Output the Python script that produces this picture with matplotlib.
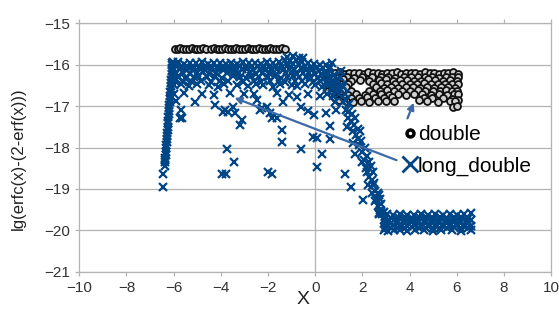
import matplotlib
matplotlib.use("Agg")
import matplotlib.pyplot as plt
from matplotlib.lines import Line2D

plt.rcParams['font.family'] = ['Liberation Sans', 'DejaVu Sans']

# ---- double (circles) ----
double_top_x = [
    -5.95, -5.83, -5.71, -5.59, -5.47, -5.35, -5.23, -5.11, -4.99, -4.87, -4.75, -4.63,
    -4.42, -4.3, -4.18, -4.06, -3.94, -3.82, -3.7, -3.58, -3.46, -3.34, -3.22, -3.1,
    -2.98, -2.86, -2.74, -2.62, -2.5, -2.38, -2.26, -2.14, -2.02, -1.9, -1.78, -1.66,
    -1.54, -1.42, -1.3,
]
double_top_y = [
    -15.62, -15.63, -15.61, -15.62, -15.63, -15.62, -15.61, -15.62, -15.63, -15.62, -15.61, -15.62,
    -15.62, -15.61, -15.62, -15.63, -15.62, -15.61, -15.62, -15.63, -15.62, -15.61, -15.62, -15.63,
    -15.62, -15.61, -15.62, -15.63, -15.62, -15.61, -15.62, -15.63, -15.62, -15.61, -15.62, -15.63,
    -15.62, -15.61, -15.62,
]
double_cl_x = [
    0.45, 0.65, 0.85, 1.05, 1.25, 1.45, 1.65, 1.85, 2.05, 2.25, 2.45, 2.65,
    2.85, 3.05, 3.25, 3.45, 3.65, 3.85, 4.05, 4.25, 4.45, 4.65, 4.85, 5.05,
    5.25, 5.45, 5.65, 5.85, 6.05,
    0.5, 0.75, 1.0, 1.35, 1.65, 2.0, 2.4, 2.8, 3.1, 3.4, 3.75, 4.05, 4.35, 4.65,
    4.95, 5.25, 5.55, 5.8, 6.05,
    0.55, 0.9, 1.2, 1.5, 1.9, 2.3, 2.7, 3.0, 3.3, 3.6, 3.9, 4.2, 4.5, 4.8,
    5.1, 5.4, 5.7, 6.0,
    0.7, 1.05, 1.4, 2.45, 2.8, 3.05, 3.4, 3.7, 4.0, 4.3, 4.6, 4.9, 5.2, 5.5,
    5.8, 6.05,
    0.6, 0.95, 1.3, 2.6, 2.9, 3.2, 3.5, 3.85, 4.15, 4.45, 4.75, 5.05, 5.35,
    5.65, 5.95,
    0.55, 0.85, 1.15, 1.5, 2.3, 2.75, 3.05, 3.35, 3.7, 4.0, 4.35, 4.65, 5.0,
    5.3, 5.55, 5.8, 6.0,
    0.7, 1.05, 1.4, 1.75, 2.1, 2.45, 2.8, 3.15, 3.5, 3.85, 4.2, 4.55, 4.9,
    5.25, 5.6, 5.9, 6.05,
    0.85, 1.2, 1.5, 1.85, 2.2, 2.55, 2.9, 3.25, 4.6, 4.95, 5.4, 5.8, 6.05,
    1.0, 1.3, 1.6, 1.95, 2.3, 2.65, 3.0, 3.35, 4.4, 4.75, 5.2, 5.7, 5.95,
    5.85, 6.0,
]
double_cl_y = [
    -16.22, -16.2, -16.21, -16.19, -16.22, -16.2, -16.21, -16.2, -16.22, -16.19, -16.21, -16.2,
    -16.22, -16.2, -16.21, -16.19, -16.22, -16.2, -16.21, -16.2, -16.22, -16.19, -16.21, -16.2,
    -16.22, -16.2, -16.21, -16.19, -16.22,
    -16.3, -16.31, -16.29, -16.3, -16.32, -16.3, -16.29, -16.31, -16.3, -16.32, -16.29, -16.3,
    -16.31, -16.3, -16.29, -16.32, -16.3, -16.31, -16.3,
    -16.38, -16.4, -16.36, -16.39, -16.37, -16.4, -16.38, -16.36, -16.4, -16.38, -16.37, -16.39,
    -16.4, -16.36, -16.38, -16.4, -16.37, -16.39,
    -16.47, -16.46, -16.48, -16.47, -16.45, -16.48, -16.47, -16.46, -16.48, -16.47, -16.45,
    -16.48, -16.47, -16.46, -16.48, -16.47,
    -16.55, -16.57, -16.53, -16.55, -16.57, -16.54, -16.56, -16.53, -16.55, -16.57, -16.54,
    -16.56, -16.55, -16.53, -16.57,
    -16.63, -16.64, -16.62, -16.63, -16.65, -16.63, -16.62, -16.64, -16.63, -16.65, -16.62,
    -16.63, -16.64, -16.63, -16.62, -16.65, -16.63,
    -16.72, -16.7, -16.74, -16.71, -16.73, -16.7, -16.72, -16.74, -16.71, -16.73, -16.7,
    -16.72, -16.74, -16.71, -16.73, -16.7, -16.72,
    -16.8, -16.79, -16.81, -16.8, -16.78, -16.81, -16.8, -16.79, -16.8, -16.81, -16.8,
    -16.82, -16.85,
    -16.86, -16.88, -16.9, -16.88, -16.9, -16.87, -16.89, -16.88, -16.85, -16.88, -16.9,
    -16.89, -16.88,
    -17.02, -17.0,
]

# ---- long_double (crosses) ----
long_rise_x = [
    -6.45, -6.45, -6.38, -6.37, -6.36, -6.35, -6.34, -6.33, -6.32, -6.31, -6.3, -6.29,
    -6.28, -6.27, -6.26, -6.25, -6.24, -6.23, -6.22, -6.21, -6.2, -6.19, -6.18, -6.17,
    -6.16, -6.15, -6.14, -6.13, -6.12, -6.11, -6.1, -6.09, -6.08, -6.07, -6.06, -6.05,
    -6.04,
]
long_rise_y = [
    -18.95, -18.64, -18.45, -18.35, -18.3, -18.25, -18.17, -18.1, -18.02, -17.95, -17.87, -17.8,
    -17.72, -17.65, -17.57, -17.5, -17.42, -17.35, -17.27, -17.2, -17.12, -17.05, -16.97, -16.9,
    -16.82, -16.75, -16.67, -16.6, -16.52, -16.45, -16.37, -16.3, -16.22, -16.15, -16.08, -16.02,
    -15.95,
]
long_band_x = [
    # row A
    -6.05, -5.8, -5.55, -5.3, -5.05, -4.8, -4.55, -4.3, -4.05, -3.8, -3.55,
    -3.3, -3.05, -2.8, -2.55, -2.3, -2.05, -1.8, -1.55, -1.3, -1.05, -0.8,
    -0.55, -0.3, -0.05, 0.2, 0.45, 0.7,
    # row A2
    -5.92, -5.67, -5.42, -5.17, -4.92, -4.67, -4.42, -4.17, -3.92, -3.67, -3.42,
    -3.17, -2.92, -2.67, -2.42, -2.17, -1.92, -1.67, -1.42, -1.17, -0.92, -0.67,
    -0.42, -0.17, 0.08, 0.33, 0.58,
    # row B
    -6.0, -5.72, -5.45, -5.2, -4.9, -4.65, -4.4, -4.12, -3.9, -3.62, -3.4,
    -3.12, -2.9, -2.62, -2.35, -2.12, -1.88, -1.6, -1.35, -1.12, -0.88, -0.6,
    -0.38, -0.12, 0.15, 0.4,
    # row B2
    -5.9, -5.6, -5.3, -5.0, -4.75, -4.5, -4.2, -3.75, -3.45, -3.25, -2.75, -2.5,
    -2.25, -1.95, -1.65, -1.25, -1.0, -0.75, -0.5, -0.25, 0.0, 0.25, 0.5,
    # row C
    -6.02, -5.8, -5.5, -5.15, -4.95, -4.6, -4.25, -3.95, -3.5, -3.2, -2.95,
    -2.7, -2.4, -2.0, -1.7, -1.45, -1.2, -0.95, -0.7, -0.4, -0.2, 0.1, 0.35, 0.6,
    # row C2
    -5.95, -5.6, -5.25, -4.85, -4.4, -4.05, -3.7, -3.05, -2.6, -2.3, -1.9, -1.55,
    -1.3, -0.85, -0.55, -0.1, 0.2, 0.45, 0.75,
    # row D
    -6.0, -5.7, -5.35, -5.0, -4.5, -4.1, -3.85, -3.3, -2.85, -2.5, -2.2, -1.8,
    -1.5, -1.0, -0.75, -0.45, 0.0, 0.3, 0.55, 0.8,
    # row E
    -6.0, -5.9, -5.55, -4.8, -4.3, -3.6, -3.0, -2.6, -1.6, -1.1, -0.3, 0.2, 0.5, 0.9,
    # bump at top
    -1.2, -0.95, -0.7, -0.52,
]
long_band_y = [
    -15.97, -15.95, -15.98, -15.96, -15.97, -15.95, -15.98, -15.96, -15.97, -15.99, -15.96,
    -15.98, -15.95, -15.97, -15.96, -15.98, -15.95, -15.97, -15.94, -15.9, -15.92, -15.88,
    -15.93, -15.96, -15.98, -16.02, -16.0, -15.97,
    -16.04, -16.05, -16.03, -16.04, -16.06, -16.04, -16.03, -16.05, -16.04, -16.06, -16.03,
    -16.04, -16.05, -16.03, -16.04, -16.06, -16.04, -16.03, -16.05, -16.0, -15.98, -16.0,
    -16.04, -16.05, -16.06, -16.08, -16.1,
    -16.12, -16.1, -16.14, -16.12, -16.11, -16.14, -16.12, -16.1, -16.13, -16.12, -16.14,
    -16.11, -16.12, -16.14, -16.1, -16.13, -16.12, -16.11, -16.14, -16.1, -16.12, -16.08,
    -16.13, -16.12, -16.15, -16.18,
    -16.21, -16.2, -16.22, -16.21, -16.19, -16.22, -16.21, -16.2, -16.22, -16.21, -16.19,
    -16.22, -16.21, -16.2, -16.22, -16.21, -16.19, -16.22, -16.21, -16.2, -16.22, -16.24, -16.26,
    -16.3, -16.28, -16.32, -16.3, -16.27, -16.31, -16.29, -16.32, -16.28, -16.3, -16.32,
    -16.27, -16.3, -16.31, -16.28, -16.32, -16.3, -16.27, -16.31, -16.29, -16.3, -16.33,
    -16.35, -16.3,
    -16.4, -16.41, -16.39, -16.4, -16.42, -16.4, -16.39, -16.41, -16.4, -16.42, -16.39,
    -16.4, -16.41, -16.4, -16.39, -16.42, -16.4, -16.41, -16.4,
    -16.5, -16.48, -16.52, -16.47, -16.5, -16.53, -16.48, -16.5, -16.52, -16.47, -16.5,
    -16.53, -16.48, -16.5, -16.52, -16.47, -16.5, -16.55, -16.5, -16.45,
    -16.72, -16.88, -16.68, -16.7, -16.73, -16.68, -16.72, -16.7, -16.68, -16.73, -16.7,
    -16.75, -16.7, -16.62,
    -15.82, -15.8, -15.85, -15.84,
]
long_scatter_x = [
    -5.69, -5.73, -5.64, -5.1, -4.25, -3.9, -3.69, -3.47, -2.48, -2.34, -2.06,
    -1.92, -1.36, -0.79, -0.58, -0.08, -1.42, -1.42, -3.12, -3.19, -3.73, -3.44,
    -3.95, -3.8, -3.83, -3.4, -1.85, -1.62, -2.27, -0.3, -0.06, 0.45, 0.9,
    -0.61, -1.85, 0.08, 0.31, 0.06, 0.62, 0.65, 1.26, -2.0,
]
long_scatter_y = [
    -17.1, -17.3, -17.3, -16.9, -16.98, -17.14, -17.14, -17.03, -16.86, -17.1, -17.03,
    -17.18, -16.9, -16.78, -17.02, -17.74, -17.58, -17.86, -17.34, -17.46, -18.04, -18.34,
    -18.64, -18.64, -17.1, -17.17, -17.3, -17.28, -17.04, -17.13, -17.22, -17.17, -17.1,
    -18.04, -18.64, -17.78, -18.16, -18.48, -17.47, -17.8, -18.64, -18.6,
]
long_drop_x = [
    0.65, 0.8, 0.95, 0.7, 1.0, 0.85, 1.1, 1.15, 0.5, 0.55, 0.75, 0.9, 1.05,
    1.2, 1.3, 1.4, 1.25, 1.45, 1.35, 1.2, 1.3, 1.4, 1.5,
    1.55, 1.65, 1.75, 1.6, 1.85, 1.9, 1.7, 2.0, 1.54, 1.6, 1.7, 1.8, 1.8, 1.95,
    2.05, 2.15, 2.2, 2.3, 2.35, 2.25, 2.45, 2.4, 2.03, 2.39, 2.0, 2.1, 2.2, 2.3, 2.45, 2.5,
    2.55, 2.6, 2.65, 2.7, 2.75, 2.8, 2.85, 2.71, 2.55, 2.65, 2.75, 2.8, 2.7,
]
long_drop_y = [
    -16.05, -16.25, -16.4, -16.55, -16.7, -16.9, -16.15, -16.5, -16.2, -16.45, -16.75, -16.55, -16.3,
    -16.9, -17.1, -17.3, -16.7, -16.95, -17.5, -16.55, -16.85, -17.15, -17.35,
    -17.2, -17.45, -17.7, -17.9, -17.95, -17.6, -18.15, -18.1, -18.94, -17.6, -17.3, -17.55, -17.8, -17.85,
    -18.3, -18.5, -18.2, -18.7, -18.45, -18.9, -18.9, -19.1, -19.27, -18.78, -18.35, -18.0, -18.6, -18.35, -18.6, -18.85,
    -19.05, -19.25, -19.4, -19.15, -19.5, -19.35, -19.6, -19.59, -19.3, -19.1, -19.25, -19.55, -19.6,
]
long_floor_x = [
    2.9, 3.05, 3.3, 3.6, 3.9, 4.2, 4.5, 4.8, 5.1, 5.4, 5.7, 6.0, 6.3, 6.6,
    2.95, 3.2, 3.5, 3.8, 4.1, 4.4, 4.7, 5.0, 5.3, 5.6, 5.9, 6.2, 6.5,
    2.9, 3.15, 3.45, 3.75, 4.05, 4.35, 4.65, 4.95, 5.25, 5.55, 5.85, 6.15, 6.45, 6.62,
    2.95, 3.2, 3.45, 3.75, 4.05, 4.35, 4.65, 4.95, 5.25, 5.55, 5.85, 6.15, 6.45,
    3.0, 3.3, 3.6, 3.9, 4.2, 4.5, 4.8, 5.1, 5.4, 5.7, 6.0, 6.3, 6.6,
    2.95, 3.2, 3.5, 3.8, 4.1, 4.4, 4.7, 5.0, 5.3, 5.6, 5.9, 6.2, 6.5,
    2.9, 3.1, 3.35, 3.6, 3.9, 4.25, 4.6, 5.0, 5.35, 5.8, 6.2, 6.6,
]
long_floor_y = [
    -19.55, -19.6, -19.62, -19.6, -19.63, -19.62, -19.6, -19.63, -19.61, -19.62, -19.6,
    -19.63, -19.61, -19.58,
    -19.68, -19.69, -19.67, -19.68, -19.7, -19.68, -19.67, -19.69, -19.68, -19.7, -19.67,
    -19.68, -19.69,
    -19.75, -19.74, -19.76, -19.75, -19.73, -19.76, -19.75, -19.74, -19.76, -19.75, -19.73,
    -19.76, -19.75, -19.74,
    -19.82, -19.81, -19.83, -19.82, -19.8, -19.83, -19.82, -19.81, -19.83, -19.82, -19.8,
    -19.83, -19.82,
    -19.88, -19.87, -19.89, -19.88, -19.86, -19.89, -19.88, -19.87, -19.89, -19.88, -19.86,
    -19.89, -19.88,
    -19.94, -19.93, -19.95, -19.94, -19.92, -19.95, -19.94, -19.93, -19.95, -19.94, -19.92,
    -19.95, -19.94,
    -20.0, -20.01, -19.99, -20.0, -20.01, -19.99, -20.0, -20.01, -19.99, -20.0, -20.01, -19.99,
]

double_x = double_top_x + double_cl_x
double_y = double_top_y + double_cl_y
long_x = long_rise_x + long_band_x + long_scatter_x + long_drop_x + long_floor_x
long_y = long_rise_y + long_band_y + long_scatter_y + long_drop_y + long_floor_y

x_ticks = [-10, -8, -6, -4, -2, 0, 2, 4, 6, 8, 10]
y_ticks = [-21, -20, -19, -18, -17, -16, -15]

blue = '#004586'
arrow_col = '#3c6aa6'
grid_col = '#b3b3b3'

fig = plt.figure(figsize=(5.59, 3.25), dpi=100)
ax = fig.add_axes([0.1419, 0.1631, 0.8438, 0.7661])

ax.plot(double_x, double_y, linestyle='none', marker='o', ms=5,
        mfc='#d0d0d0', mec='#111111', mew=1.3, zorder=3)
ax.plot(long_x, long_y, linestyle='none', marker='x', ms=5.6, mew=1.6,
        color=blue, zorder=4)

ax.set_xlim(-10, 10)
ax.set_ylim(-21, -15)
ax.set_xticks(x_ticks)
ax.set_yticks(y_ticks)
ax.grid(axis='y', color=grid_col, lw=0.9)
ax.axvline(0, color=grid_col, lw=0.9, zorder=1)
ax.set_axisbelow(True)
for s in ax.spines.values():
    s.set_color(grid_col)
    s.set_linewidth(0.9)
ax.tick_params(colors=grid_col, length=3, width=0.9, labelsize=11, labelcolor='#333333')
ax.tick_params(axis='x', top=True)

ax.set_xlabel('X', fontsize=14, color='#222222')
ax.xaxis.set_label_coords(0.474, -0.075)
ax.set_ylabel('lg(erfc(x)-(2-erf(x)))', fontsize=12, color='#222222')
ax.yaxis.set_label_coords(-0.113, 0.454)

# legend
handles = [
    Line2D([], [], linestyle='none', marker='o', ms=5, mfc='white', mec='black', mew=2.5),
    Line2D([], [], linestyle='none', marker='x', ms=11, mew=2, color=blue),
]
ax.legend(handles, ['double', 'long_double'], loc='upper left',
          bbox_to_anchor=(0.687, 0.59), frameon=False, fontsize=15,
          handlelength=0.6, handletextpad=0.1, labelspacing=0.6,
          borderaxespad=0, borderpad=0)

# arrows from the legend to the clusters
ax.annotate('', xy=(4.22, -16.86), xytext=(3.87, -17.36),
            arrowprops=dict(arrowstyle='-|>', color=arrow_col, lw=1.6, mutation_scale=10),
            zorder=5)
ax.annotate('', xy=(-3.53, -16.78), xytext=(3.56, -18.33),
            arrowprops=dict(arrowstyle='-|>', color=arrow_col, lw=1.6, mutation_scale=10),
            zorder=5)

fig.savefig('out.png', dpi=100)
